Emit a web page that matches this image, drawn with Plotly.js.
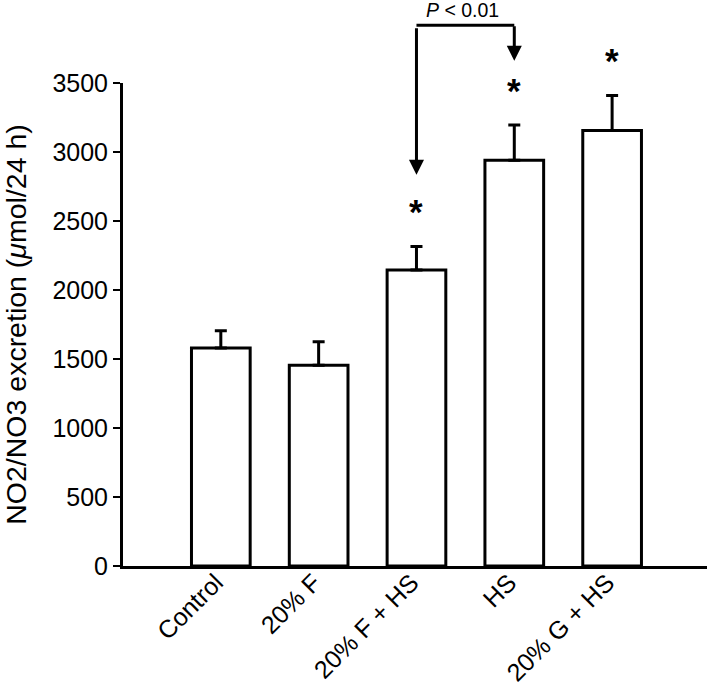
<!DOCTYPE html>
<html>
<head>
<meta charset="utf-8">
<script src="https://cdn.plot.ly/plotly-3.0.1.min.js"></script>
<style>html,body{margin:0;padding:0;background:#fff;}#chart{width:709px;height:688px;}</style>
</head>
<body>
<div id="chart"></div>
<script>
var categories = ["Control", "20% F", "20% F + HS", "HS", "20% G + HS"];
var means = [1580, 1455, 2145, 2940, 3155];
var sem = [125, 170, 170, 255, 255];
var significant = [false, false, true, true, true];
var yTicks = [0, 500, 1000, 1500, 2000, 2500, 3000, 3500];
var pText = "<i>P</i> &lt; 0.01";
var compareFrom = 2, compareTo = 3;

var FONT = "Liberation Sans, Arial, sans-serif";

var trace = {
  type: "bar",
  x: categories,
  y: means,
  width: 0.6,
  marker: {color: "#ffffff", line: {color: "#000000", width: 3}},
  error_y: {
    type: "data", symmetric: false, array: sem,
    arrayminus: sem.map(function(){return 0;}),
    color: "#000000", thickness: 3, width: 6
  },
  hoverinfo: "none"
};

var annotations = [];
categories.forEach(function(c, i){
  if (significant[i]) {
    annotations.push({
      x: c, y: means[i] + sem[i], xref: "x", yref: "y",
      text: "<b>*</b>", showarrow: false, yanchor: "middle", yshift: 35,
      font: {family: FONT, size: 35, color: "#000"}
    });
  }
});
// P value text
annotations.push({
  x: (compareFrom + compareTo) / 2 - 0.03, y: 1.151, xref: "x", yref: "paper",
  text: pText, showarrow: false, yanchor: "middle",
  font: {family: FONT, size: 19.5, color: "#000"}
});
// arrows
annotations.push({
  x: compareFrom, y: 0.81, xref: "x", yref: "paper", text: "",
  showarrow: true, arrowhead: 2, arrowsize: 1.0, arrowwidth: 3, arrowcolor: "#000",
  ax: 0, ay: -148, standoff: 0, startstandoff: 0
});
annotations.push({
  x: compareTo, y: 1.046, xref: "x", yref: "paper", text: "",
  showarrow: true, arrowhead: 2, arrowsize: 1.0, arrowwidth: 3, arrowcolor: "#000",
  ax: 0, ay: -36, standoff: 0, startstandoff: 0
});

var shapes = [{
  type: "line", xref: "x", yref: "paper",
  x0: compareFrom, x1: compareTo, y0: 1.1195, y1: 1.1195,
  line: {color: "#000", width: 3}
}];

var layout = {
  width: 709, height: 688,
  margin: {l: 123, r: 2, t: 83, b: 122},
  paper_bgcolor: "#fff", plot_bgcolor: "#fff",
  showlegend: false,
  font: {family: FONT, color: "#000", size: 25},
  xaxis: {
    type: "category", range: [-1, 4.97],
    showline: true, linecolor: "#000", linewidth: 3,
    ticks: "", tickangle: -45, showgrid: false, zeroline: false,
    ticklabelstandoff: -11, ticklabelshift: -5,
    tickfont: {family: FONT, size: 25, color: "#000"}
  },
  yaxis: {
    range: [0, 3500], tickvals: yTicks, ticktext: yTicks.map(String),
    showline: true, linecolor: "#000", linewidth: 3,
    ticks: "outside", ticklen: 7, tickwidth: 2, tickcolor: "#000",
    showgrid: false, zeroline: false,
    tickfont: {family: FONT, size: 25, color: "#000"},
    title: {text: "NO2/NO3 excretion (<i>μ</i>mol/24 h)", standoff: 21,
            font: {family: FONT, size: 28.5, color: "#000"}}
  },
  annotations: annotations,
  shapes: shapes
};

Plotly.newPlot("chart", [trace], layout, {displayModeBar: false, staticPlot: true});
</script>
</body>
</html>
